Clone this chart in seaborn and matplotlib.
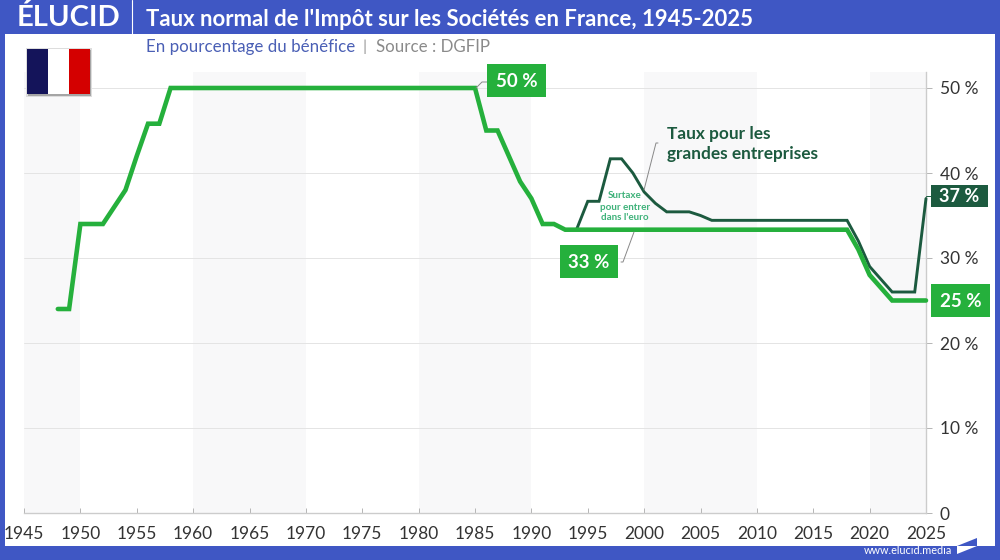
import matplotlib
matplotlib.use("Agg")
import matplotlib.pyplot as plt
from matplotlib.patches import Rectangle, Polygon
import pandas as pd
import seaborn as sns

years_main = list(range(1948, 2026))
rate_main = [24, 24, 34, 34, 34, 36, 38, 42, 45.8, 45.8, 50] + [50] * 27 + \
    [45, 45, 42, 39, 37, 34, 34, 33.33] + [33.33] * 25 + [31, 28, 26.5, 25, 25, 25, 25]
years_big = list(range(1994, 2026))
rate_big = [33.33, 36.67, 36.67, 41.67, 41.67, 40, 37.77, 36.43, 35.43, 35.43, 35.43, 35, 34.43] + \
    [34.43] * 12 + [32, 29, 27.5, 26, 26, 26, 37]
shade_spans = [(1945, 1950), (1960, 1970), (1980, 1990), (2000, 2010), (2020, 2025)]
x_ticks = list(range(1945, 2026, 5))
y_ticks = [0, 10, 20, 30, 40, 50]
y_labels = ["0", "10 %", "20 %", "30 %", "40 %", "50 %"]

BLUE = "#3f57c4"
GREEN = "#25b03c"
DARK = "#1c5a3f"
TXT = "#333333"

sns.set_theme(style="white")
plt.rcParams["font.family"] = ["Lato", "Open Sans", "DejaVu Sans"]

W, H = 1000, 560
fig = plt.figure(figsize=(10, 5.6), dpi=100, facecolor="white")
x0, x1, ytop, ybot = 24, 926, 72, 513
ax = fig.add_axes([x0 / W, 1 - ybot / H, (x1 - x0) / W, (ybot - ytop) / H])
ax.set_xlim(1945, 2025)
ax.set_ylim(0, (ybot - ytop) / 8.5)
ax.set_facecolor("white")

for a, b in shade_spans:
    ax.axvspan(a, b, color="#f8f8f9", lw=0, zorder=0)
for v in y_ticks[1:]:
    ax.axhline(v, color="#e4e4e4", lw=0.7, zorder=1)

df_main = pd.DataFrame({"annee": years_main, "taux": rate_main})
df_big = pd.DataFrame({"annee": years_big, "taux": rate_big})
sns.lineplot(data=df_big, x="annee", y="taux", ax=ax, color=DARK, lw=2.1, zorder=3,
             solid_joinstyle="miter", clip_on=False)
sns.lineplot(data=df_main, x="annee", y="taux", ax=ax, color=GREEN, lw=3.3, zorder=4,
             solid_joinstyle="miter", clip_on=False)

ax.set_xlabel("")
ax.set_ylabel("")
ax.set_xticks(x_ticks)
ax.set_xticklabels([str(v) for v in x_ticks], fontsize=12.5, color=TXT)
ax.set_yticks(y_ticks)
ax.set_yticklabels(y_labels, fontsize=12.5, color=TXT)
ax.yaxis.tick_right()
ax.tick_params(axis="x", length=3.5, width=0.7, color="#b5b5b5", direction="in", pad=9.5, bottom=True)
ax.tick_params(axis="y", length=4, width=0.7, color="#b5b5b5", direction="out", pad=6, right=True)
for s in ["top", "left"]:
    ax.spines[s].set_visible(False)
for s in ["bottom", "right"]:
    ax.spines[s].set_color("#cccccc")
    ax.spines[s].set_linewidth(1.0)

# overlay in pixel coordinates
ov = fig.add_axes([0, 0, 1, 1], facecolor="none")
ov.set_xlim(0, W)
ov.set_ylim(H, 0)
ov.axis("off")

def rect(x, y, w, h, c, z=5, **kw):
    ov.add_patch(Rectangle((x, y), w, h, facecolor=c, edgecolor="none", zorder=z, **kw))

rect(0, 0, W, 34, BLUE)
rect(0, 0, 5, H, BLUE)
rect(995, 0, 5, H, BLUE)
rect(0, 546, W, 14, BLUE)
ov.plot([132, 132], [0, 34], color="white", lw=0.8, zorder=6)

ov.text(17, 18, "ÉLUCID", color="white", fontsize=21, fontweight="bold", va="center", ha="left", zorder=6)
ov.text(146, 19, "Taux normal de l'Impôt sur les Sociétés en France, 1945-2025",
        color="white", fontsize=15.9, fontweight="bold", va="center", ha="left", zorder=6)
ov.text(146, 47, "En pourcentage du bénéfice", color="#4a5fb5", fontsize=12.15, va="center", ha="left")
ov.text(363, 47, "|", color="#999999", fontsize=11.5, va="center", ha="left")
ov.text(376, 47, "Source : DGFIP", color="#8a8a8a", fontsize=12.2, va="center", ha="left")

# flag
rect(26, 48, 66, 49, "#dddddd", z=4)
rect(28, 50, 63, 46, "#a5a5a5", z=5)
rect(27, 49, 21, 45, "#14145a", z=6)
rect(48, 49, 21, 45, "#ffffff", z=6)
rect(69, 49, 21, 45, "#d40000", z=6)

def tag(x, y, w, h, c, s, fs=13.5):
    rect(x, y, w, h, c, z=7)
    ov.text(x + w / 2, y + h / 2 + 1, s, color="white", fontsize=fs, fontweight="bold",
            ha="center", va="center", zorder=8)

tag(487, 64, 59, 33, GREEN, "50 %")
tag(560, 245, 58, 33, GREEN, "33 %")
tag(931, 185, 57, 22, DARK, "37 %", 13)
tag(931, 284, 59, 33, GREEN, "25 %")

ov.plot([476, 482, 487], [88, 82, 82], color="#888888", lw=0.7, zorder=6)
ov.plot([621, 623, 634], [262, 262, 232], color="#888888", lw=0.7, zorder=6)
ov.plot([644, 656, 658], [190, 143, 143], color="#888888", lw=0.7, zorder=2)
ov.plot([926, 931], [196, 196], color=DARK, lw=0.7, zorder=6)

ov.text(667, 144, "Taux pour les\ngrandes entreprises", color=DARK, fontsize=12.4, fontweight="bold",
        ha="left", va="center", linespacing=1.3)
ov.text(625, 196, "Surtaxe", color="#3fb27a", fontsize=7.1, fontweight="bold", ha="center", va="center")
ov.text(625, 207, "pour entrer", color="#3fb27a", fontsize=7.1, fontweight="bold", ha="center", va="center")
ov.text(625, 218, "dans l'euro", color="#3fb27a", fontsize=7.1, fontweight="bold", ha="center", va="center")

ov.text(952, 551, "www.elucid.media", color="white", fontsize=7.8, ha="right", va="center", zorder=8)
ov.add_patch(Polygon([[957, 546], [977, 538], [977, 546]], facecolor=BLUE, edgecolor="none", zorder=7))
ov.add_patch(Polygon([[957, 546], [977, 546], [957, 554]], facecolor="white", edgecolor="none", zorder=8))

fig.savefig("out.png", dpi=100, facecolor="white")
